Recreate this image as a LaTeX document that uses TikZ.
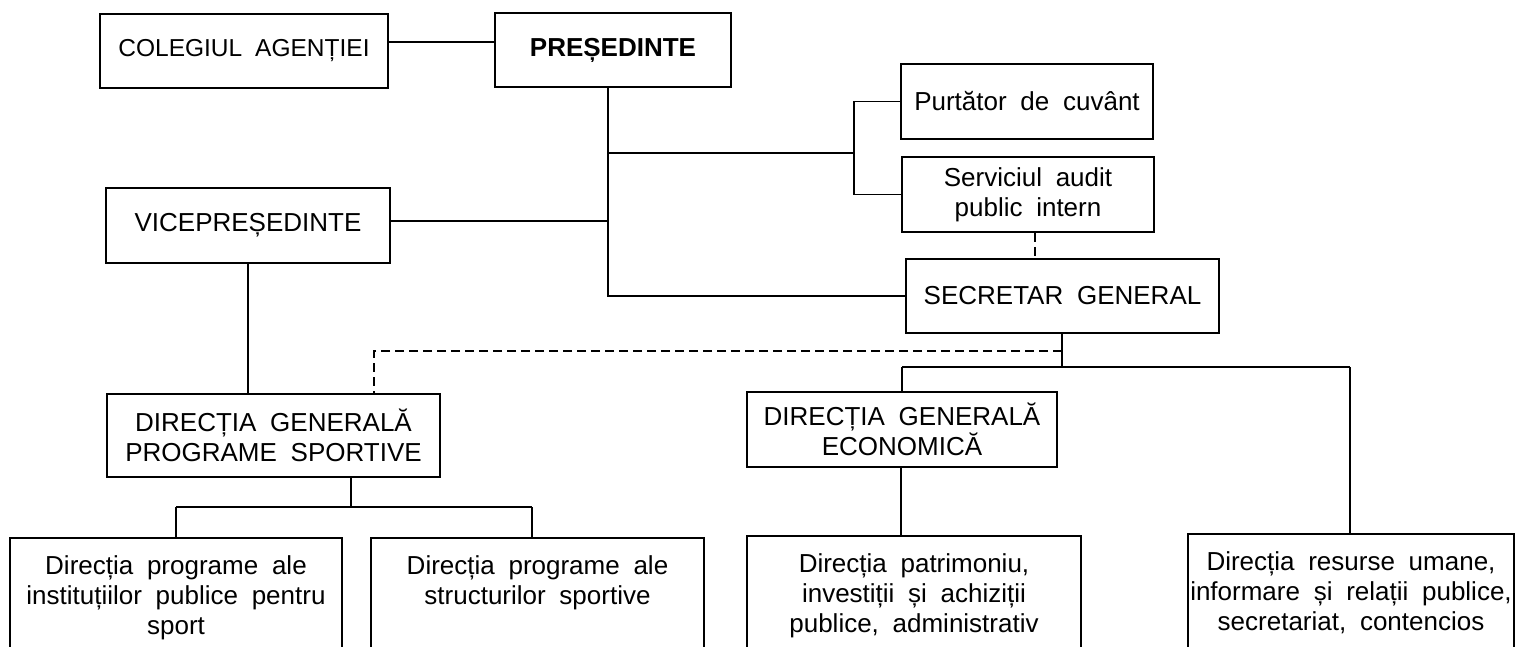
\documentclass[tikz,border=0pt]{standalone}
\usepackage{fontspec}
\setmainfont[WordSpace=1.9]{Liberation Sans}
\begin{document}
\begin{tikzpicture}[x=1pt,y=-1pt,
  txt/.style={font=\fontsize{26}{30}\selectfont},
  box/.style={draw, line width=1.7pt, inner sep=0pt, align=center, txt},
  bbox/.style={draw, line width=1.7pt, inner xsep=0pt, inner ysep=18pt, anchor=north, txt},
  ln/.style={line width=1.7pt},
  dln/.style={line width=1.7pt, dash pattern=on 9pt off 5pt}]
\useasboundingbox (0,0) rectangle (1517,646);
\clip (0,0) rectangle (1517,646);
% top row
\node[box, minimum width=288pt, minimum height=74pt, font=\fontsize{24.5}{29}\selectfont] (col) at (244,51) {COLEGIUL AGENȚIEI};
\node[box, minimum width=236pt, minimum height=74pt, font=\fontsize{26}{30}\selectfont\bfseries] (pres) at (613,50) {PREȘEDINTE};
\node[box, minimum width=252pt, minimum height=75pt] (purt) at (1027,101.5) {Purtător de cuvânt};
\node[box, minimum width=252pt, minimum height=75pt] (serv) at (1028,194.5) {Serviciul audit\\public intern};
\node[box, minimum width=313pt, minimum height=74pt] (sg) at (1062.5,296) {SECRETAR GENERAL};
\node[box, minimum width=284pt, minimum height=75pt] (vice) at (248,225.5) {VICEPREȘEDINTE};
\node[box, minimum width=333pt, minimum height=83pt] (dgp) at (273.5,435.5) {DIRECȚIA GENERALĂ\\PROGRAME SPORTIVE};
\node[box, minimum width=310pt, minimum height=75pt] (dge) at (902,429.5) {DIRECȚIA GENERALĂ\\ECONOMICĂ};
% bottom row
\node[bbox] (b1) at (176,537) {\parbox[t][125pt][t]{332pt}{\centering Direcția programe ale\\instituțiilor publice pentru\\sport}};
\node[bbox] (b2) at (537.5,537) {\parbox[t][125pt][t]{333pt}{\centering Direcția programe ale\\structurilor sportive}};
\node[bbox] (b3) at (914,535) {\parbox[t][125pt][t]{334pt}{\centering Direcția patrimoniu,\\investiții și achiziții\\publice, administrativ}};
\node[bbox] (b4) at (1351,533) {\parbox[t][125pt][t]{326pt}{\centering Direcția resurse umane,\\informare și relații publice,\\secretariat, contencios}};
% helper coordinates
\coordinate (trunk) at (608,0);
\coordinate (brk) at (854,153);
\coordinate (dj) at (1062,351);
\coordinate (sj) at (1062,367);
\coordinate (gj) at (351,507);
% connectors
\draw[ln] (col.east |- 0,42) -- (pres.west |- 0,42);
\draw[ln] (pres.south -| trunk) -- (trunk |- sg.west) -- (sg.west);
\draw[ln] (trunk |- brk) -- (brk);
\draw[ln] (purt.west) -| (brk) |- (serv.west);
\draw[ln] (vice.east |- 0,221) -- (trunk |- 0,221);
\draw[dln] (serv.south -| 1035,0) -- (sg.north -| 1035,0);
\draw[ln] (sg.south -| sj) -- (sj);
\draw[dln] (dj) -| (dgp.north -| 374,0);
\draw[ln] (902,367) -- (1350,367);
\draw[ln] (902,367) -- (dge.north);
\draw[ln] (1350,367) -- (b4.north -| 1350,0);
\draw[ln] (dge.south -| 901,0) -- (b3.north -| 901,0);
\draw[ln] (vice.south) -- (vice.south |- dgp.north);
\draw[ln] (dgp.south -| gj) -- (gj);
\draw[ln] (b1.north |- gj) -- (532,507);
\draw[ln] (b1.north |- gj) -- (b1.north);
\draw[ln] (532,507) -- (b2.north -| 532,0);
\end{tikzpicture}
\end{document}
